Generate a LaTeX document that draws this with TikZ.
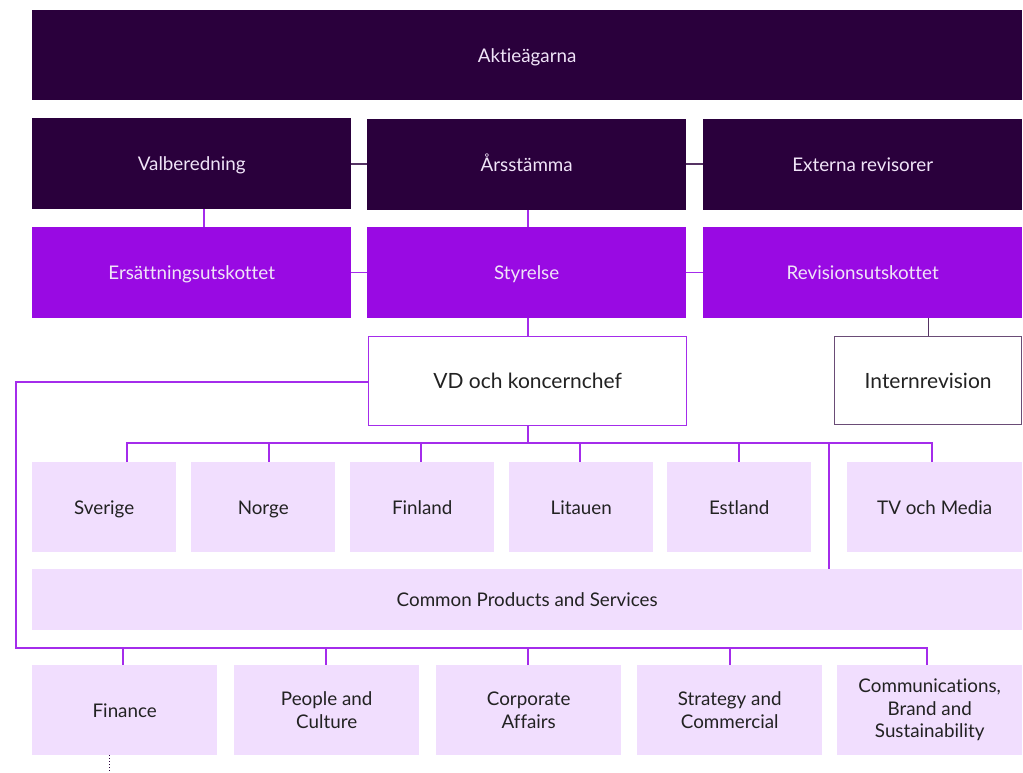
\documentclass[tikz,border=0pt]{standalone}
\usepackage{fontspec}
\setmainfont{Lato}[Ligatures={NoCommon}]
\usetikzlibrary{calc}
\definecolor{dark}{HTML}{2A003C}
\definecolor{mid}{HTML}{990AE3}
\definecolor{light}{HTML}{F1DEFE}
\definecolor{line}{HTML}{A42CEB}
\definecolor{ink}{HTML}{222222}
\definecolor{pale}{HTML}{F0E4F8}
\tikzset{
  box/.style={anchor=north west, inner sep=2pt, align=center, font=\fontsize{18.8}{22.5}\selectfont},
  one/.style={text height=14pt, text depth=0pt},
  darkbox/.style={box, one, fill=dark, text=pale},
  midbox/.style={box, one, fill=mid, text=pale},
  lightbox/.style={box, fill=light, text=ink},
  vdbox/.style={box, fill=white, draw=line, line width=1.3pt, text=ink, font=\fontsize{21}{25}\selectfont, text height=15.5pt, text depth=0pt},
  irbox/.style={box, fill=white, draw=dark!70, line width=1.3pt, text=ink, font=\fontsize{21}{25}\selectfont, text height=15.5pt, text depth=0pt},
  conn/.style={draw=line, line width=1.3pt},
  dconn/.style={draw=dark!80, line width=1.3pt},
}
\begin{document}
\begin{tikzpicture}[x=1pt,y=-1pt]
\useasboundingbox (0,0) rectangle (1023,773);
% rows
\node[darkbox, minimum width=990pt, minimum height=90pt] (akt) at (32,10) {Aktieägarna};
\node[darkbox, minimum width=319pt, minimum height=91pt] (valb) at (32,118) {Valberedning};
\node[darkbox, minimum width=319pt, minimum height=91pt] (arss) at (367,119) {Årsstämma};
\node[darkbox, minimum width=319pt, minimum height=91pt] (extr) at (703,119) {Externa revisorer};
\node[midbox, minimum width=319pt, minimum height=91pt] (ers) at (32,227) {Ersättningsutskottet};
\node[midbox, minimum width=319pt, minimum height=91pt] (sty) at (367,227) {Styrelse};
\node[midbox, minimum width=319pt, minimum height=91pt] (revu) at (703,227) {Revisionsutskottet};
\node[vdbox, minimum width=318pt, minimum height=89pt] (vd) at (368,336) {VD och koncernchef};
\node[irbox, minimum width=187pt, minimum height=88pt] (ir) at (834,336) {Internrevision};
% country row
\node[lightbox, one, minimum width=144pt, minimum height=90pt] (se) at (32,462) {Sverige};
\node[lightbox, one, minimum width=144pt, minimum height=90pt] (no) at (191,462) {Norge};
\node[lightbox, one, minimum width=144pt, minimum height=90pt] (fi) at (350,462) {Finland};
\node[lightbox, one, minimum width=144pt, minimum height=90pt] (lt) at (509,462) {Litauen};
\node[lightbox, one, minimum width=144pt, minimum height=90pt] (ee) at (667,462) {Estland};
\node[lightbox, one, minimum width=175pt, minimum height=90pt] (tv) at (847,462) {TV och Media};
\node[lightbox, one, minimum width=990pt, minimum height=61pt] (cps) at (32,569) {Common Products and Services};
% functions row
\node[lightbox, one, minimum width=185pt, minimum height=90pt] (fin) at (32,665) {Finance};
\node[lightbox, minimum width=185pt, minimum height=90pt] (ppl) at (234,665) {People and\\Culture};
\node[lightbox, minimum width=185pt, minimum height=90pt] (corp) at (436,665) {Corporate\\Affairs};
\node[lightbox, minimum width=185pt, minimum height=90pt] (strat) at (637,665) {Strategy and\\Commercial};
\node[lightbox, minimum width=185pt, minimum height=90pt] (comm) at (837,665) {Communications,\\Brand and\\Sustainability};
% coordinates
\coordinate (busy) at (0,443);
\coordinate (cmid) at (528,0);
\coordinate (cval) at (204,0);
\coordinate (cse) at (127,443);
\coordinate (cno) at (269,443);
\coordinate (cfi) at (421,443);
\coordinate (clt) at (580,443);
\coordinate (cee) at (739,443);
\coordinate (ccps) at (829,443);
\coordinate (ctv) at (932,443);
\coordinate (lc) at (16,648);
\coordinate (bfin) at (123,648);
\coordinate (bppl) at (326,648);
\coordinate (bcorp) at (528,648);
\coordinate (bstrat) at (730,648);
\coordinate (bcomm) at (927,648);
\coordinate (dot) at (109,773);
% connectors
\draw[dconn] (valb.east |- 0,164) -- (arss.west |- 0,164);
\draw[dconn] (arss.east |- 0,164) -- (extr.west |- 0,164);
\draw[conn] (ers.east) -- (sty.west);
\draw[conn] (sty.east) -- (revu.west);
\draw[conn] (cval |- valb.south) -- (cval |- ers.north);
\draw[conn] (cmid |- arss.south) -- (cmid |- sty.north);
\draw[conn] (cmid |- sty.south) -- (cmid |- vd.north);
\draw[dconn] (ir.north) -- (ir.north |- revu.south);
\draw[conn] (cmid |- vd.south) -- (cmid |- busy);
\draw[conn] (cse |- se.north) -- (cse) -- (ctv) -- (ctv |- tv.north);
\draw[conn] (cno) -- (cno |- no.north);
\draw[conn] (cfi) -- (cfi |- fi.north);
\draw[conn] (clt) -- (clt |- lt.north);
\draw[conn] (cee) -- (cee |- ee.north);
\draw[conn] (ccps) -- (ccps |- cps.north);
\draw[conn] (vd.west |- 0,382) -| (lc) -- (bcomm) -- (bcomm |- comm.north);
\draw[conn] (bfin) -- (bfin |- fin.north);
\draw[conn] (bppl) -- (bppl |- ppl.north);
\draw[conn] (bcorp) -- (bcorp |- corp.north);
\draw[conn] (bstrat) -- (bstrat |- strat.north);
\draw[draw=dark, line width=1pt, dotted] (dot |- fin.south) -- (dot);
\end{tikzpicture}
\end{document}
